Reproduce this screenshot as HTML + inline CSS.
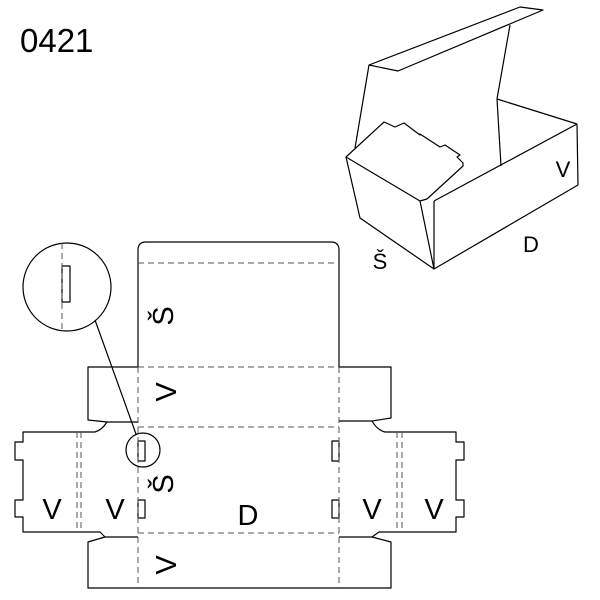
<!DOCTYPE html>
<html><head><style>html,body{margin:0;padding:0;background:#fff}svg{display:block}</style></head>
<body>
<svg width="600" height="600" viewBox="0 0 600 600" xmlns="http://www.w3.org/2000/svg" font-family="Liberation Sans, sans-serif">
<text x="20" y="52" font-size="33" fill="#000">0421</text>
<g fill="none" stroke="#000" stroke-width="1.2" stroke-linejoin="round">
<!-- 3D box -->
<polygon points="369,65 398,71 543,10 520,7"/>
<line x1="369" y1="65" x2="355" y2="148"/>
<line x1="510" y1="25" x2="497" y2="99"/>
<line x1="497" y1="99" x2="577" y2="124"/>
<line x1="577" y1="124" x2="578" y2="185"/>
<line x1="578" y1="185" x2="434" y2="269"/>
<line x1="577" y1="124" x2="434" y2="201"/>
<line x1="434" y1="201" x2="434" y2="269"/>
<line x1="497" y1="99" x2="501" y2="166"/>
<polygon points="346,157 420,201 434,269 360,218"/>
<line x1="420" y1="201" x2="427" y2="199"/>
<polyline points="346,157 384,122 395,127 404,123 420,135 420,134 440,147 445,145 460,155 457,157 463,163 463,166 427,199"/>
<!-- net solid -->
<path d="M138,367 V250 Q138,242 146,242 H331 Q339,242 339,250 V367"/>
<path d="M138,367 H88 V420 L107,422 H138"/>
<path d="M107,422 Q102,430 95,432 H23 V442 H15 V460 H23 V500 H15 V517 H23 V532 H100 L105,537 H138"/>
<path d="M105,537 L88,542 V588 H339"/>
<path d="M339,367 H391 V418 L372,421 H339"/>
<path d="M372,421 Q377,430 385,432 H456 V442 H464 V460 H456 V500 H464 V517 H456 V532 H379 L372,537 H339"/>
<path d="M372,537 L391,542 V588 H339"/>
<rect x="138" y="441" width="7" height="20"/>
<rect x="138" y="500" width="7" height="18"/>
<rect x="332" y="441" width="7" height="20"/>
<rect x="332" y="500" width="7" height="18"/>
<circle cx="143" cy="450" r="17"/>
<circle cx="67" cy="287" r="44"/>
<rect x="62" y="266" width="8" height="36"/>
<line x1="95" y1="320" x2="136" y2="434"/>
</g>
<g fill="none" stroke="#555" stroke-width="1" stroke-dasharray="6,4">
<line x1="138" y1="263" x2="339" y2="263"/>
<line x1="138" y1="367" x2="339" y2="367"/>
<line x1="138" y1="427" x2="339" y2="427"/>
<line x1="138" y1="533" x2="339" y2="533"/>
<line x1="138" y1="367" x2="138" y2="588"/>
<line x1="339" y1="367" x2="339" y2="588"/>
<line x1="77" y1="432" x2="77" y2="532"/>
<line x1="81" y1="432" x2="81" y2="532"/>
<line x1="397" y1="432" x2="397" y2="532"/>
<line x1="402" y1="432" x2="402" y2="532"/>
<line x1="62" y1="243" x2="62" y2="330"/>
</g>
<g font-size="29" fill="#000" text-anchor="middle">
<text x="248" y="525">D</text>
<text x="52" y="519">V</text>
<text x="115" y="519">V</text>
<text x="372" y="519">V</text>
<text x="434" y="519">V</text>
<text transform="translate(176,392) rotate(-90)">V</text>
<text transform="translate(176,565) rotate(-90)">V</text>
<text transform="translate(173,316) rotate(-90)">Š</text>
<text transform="translate(173,484) rotate(-90)">Š</text>
</g>
<g font-size="22" fill="#000" text-anchor="middle">
<text x="563" y="177">V</text>
<text x="531" y="252">D</text>
<text x="380" y="269">Š</text>
</g>
</svg>
</body></html>
